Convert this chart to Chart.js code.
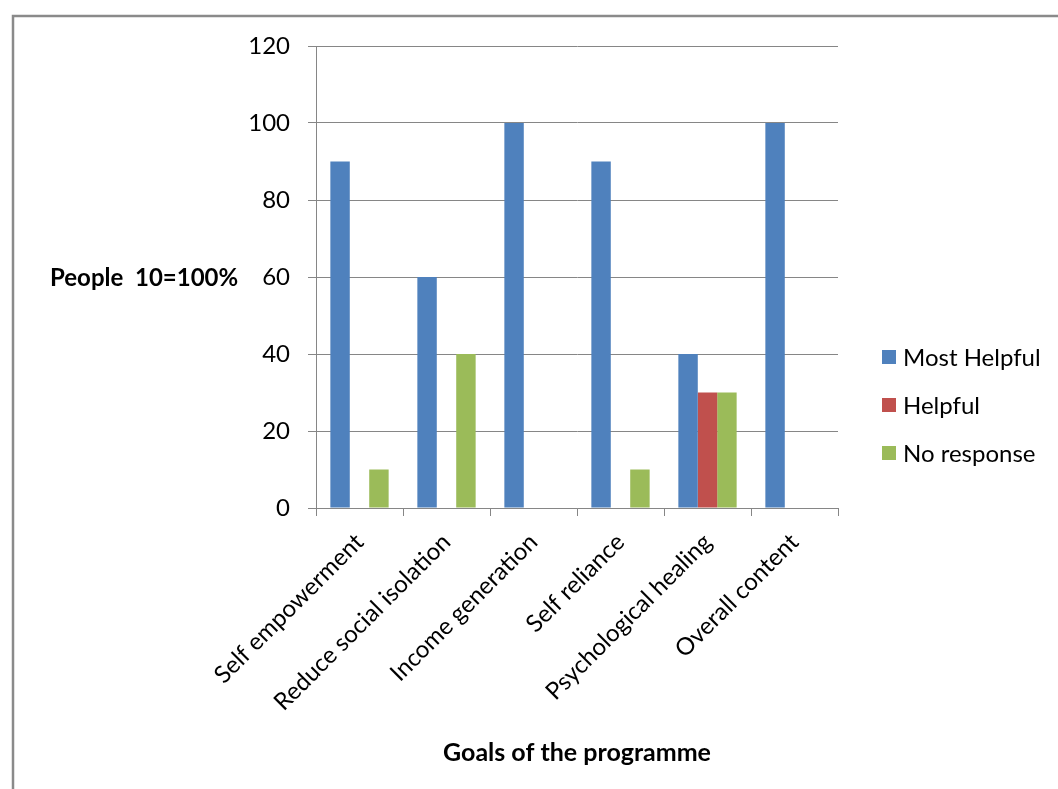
<!DOCTYPE html>
<html>
<head>
<meta charset="utf-8">
<script src="https://cdn.jsdelivr.net/npm/chart.js@4.4.1/dist/chart.umd.min.js"></script>
<style>
  html, body { margin: 0; padding: 0; background: #ffffff; }
  #c { display: block; }
</style>
</head>
<body>
<canvas id="c" width="1058" height="789"></canvas>
<script>
const categories = ["Self empowerment", "Reduce social isolation", "Income generation", "Self reliance", "Psychological healing", "Overall content"];
const mostHelpful = [90, 60, 100, 90, 40, 100];
const helpful = [0, 0, 0, 0, 30, 0];
const noResponse = [10, 40, 0, 10, 30, 0];
const yTicks = [0, 20, 40, 60, 80, 100, 120];
const seriesNames = ["Most Helpful", "Helpful", "No response"];
const seriesColors = ["#4F81BD", "#C0504D", "#9BBB59"];
const yTitle = "People  10=100%";
const xTitle = "Goals of the programme";

const FONT = "Lato, 'Open Sans', sans-serif";
const GRID = "#868686";

const framePlugin = {
  id: 'frame',
  beforeDraw(chart) {
    const ctx = chart.ctx;
    ctx.save();
    ctx.fillStyle = '#ffffff';
    ctx.fillRect(0, 0, chart.width, chart.height);
    ctx.strokeStyle = '#8a8a8a';
    ctx.lineWidth = 2.5;
    ctx.strokeRect(13, 16, chart.width + 40, chart.height + 40);
    ctx.restore();
  }
};

const extrasPlugin = {
  id: 'extras',
  afterDraw(chart) {
    const ctx = chart.ctx;
    const area = chart.chartArea;
    ctx.save();
    // horizontal y-axis title
    ctx.fillStyle = '#000000';
    ctx.font = "bold 24px " + FONT;
    ctx.textAlign = 'left';
    ctx.textBaseline = 'middle';
    ctx.fillText(yTitle, 50, (area.top + area.bottom) / 2 + 1);
    // legend
    ctx.font = "24px " + FONT;
    const legendX = area.right + 44;
    const midY = (area.top + area.bottom) / 2 + 128;
    chart.data.datasets.forEach((ds, i) => {
      const cy = midY + (i - 1) * 48;
      ctx.fillStyle = ds.backgroundColor;
      ctx.fillRect(legendX, cy - 7, 14, 14);
      ctx.fillStyle = '#000000';
      ctx.fillText(ds.label, legendX + 21, cy + 1);
    });
    ctx.restore();
  }
};

new Chart(document.getElementById('c'), {
  type: 'bar',
  data: {
    labels: categories,
    datasets: [
      { label: seriesNames[0], data: mostHelpful, backgroundColor: seriesColors[0] },
      { label: seriesNames[1], data: helpful, backgroundColor: seriesColors[1] },
      { label: seriesNames[2], data: noResponse, backgroundColor: seriesColors[2] }
    ]
  },
  options: {
    responsive: false,
    animation: false,
    layout: { padding: { left: 0, top: 46, right: 220, bottom: 0 } },
    datasets: { bar: { categoryPercentage: 0.67, barPercentage: 1.0, borderWidth: 0 } },
    plugins: {
      legend: { display: false },
      tooltip: { enabled: false },
      title: { display: false }
    },
    scales: {
      x: {
        afterFit(s) { s.height = 789 - 508; },
        grid: { offset: true, drawOnChartArea: false, drawTicks: true, tickLength: 8, color: GRID, lineWidth: 1 },
        border: { display: true, color: GRID, width: 1 },
        ticks: {
          minRotation: 45, maxRotation: 45, autoSkip: false,
          color: '#000000', font: { family: FONT, size: 24 }, padding: 12
        },
        title: {
          display: true, text: xTitle, color: '#000000',
          font: { family: FONT, size: 25, weight: 'bold' },
          padding: { top: 0, bottom: 21 }
        }
      },
      y: {
        min: 0, max: 120,
        afterFit(s) { s.width = 316; },
        afterBuildTicks(s) { s.ticks = yTicks.map(v => ({ value: v })); },
        grid: { color: GRID, lineWidth: 1, drawTicks: true, tickLength: 8 },
        border: { display: true, color: GRID, width: 1 },
        ticks: { color: '#000000', font: { family: FONT, size: 24 }, padding: 18 }
      }
    }
  },
  plugins: [framePlugin, extrasPlugin]
});
</script>
</body>
</html>
